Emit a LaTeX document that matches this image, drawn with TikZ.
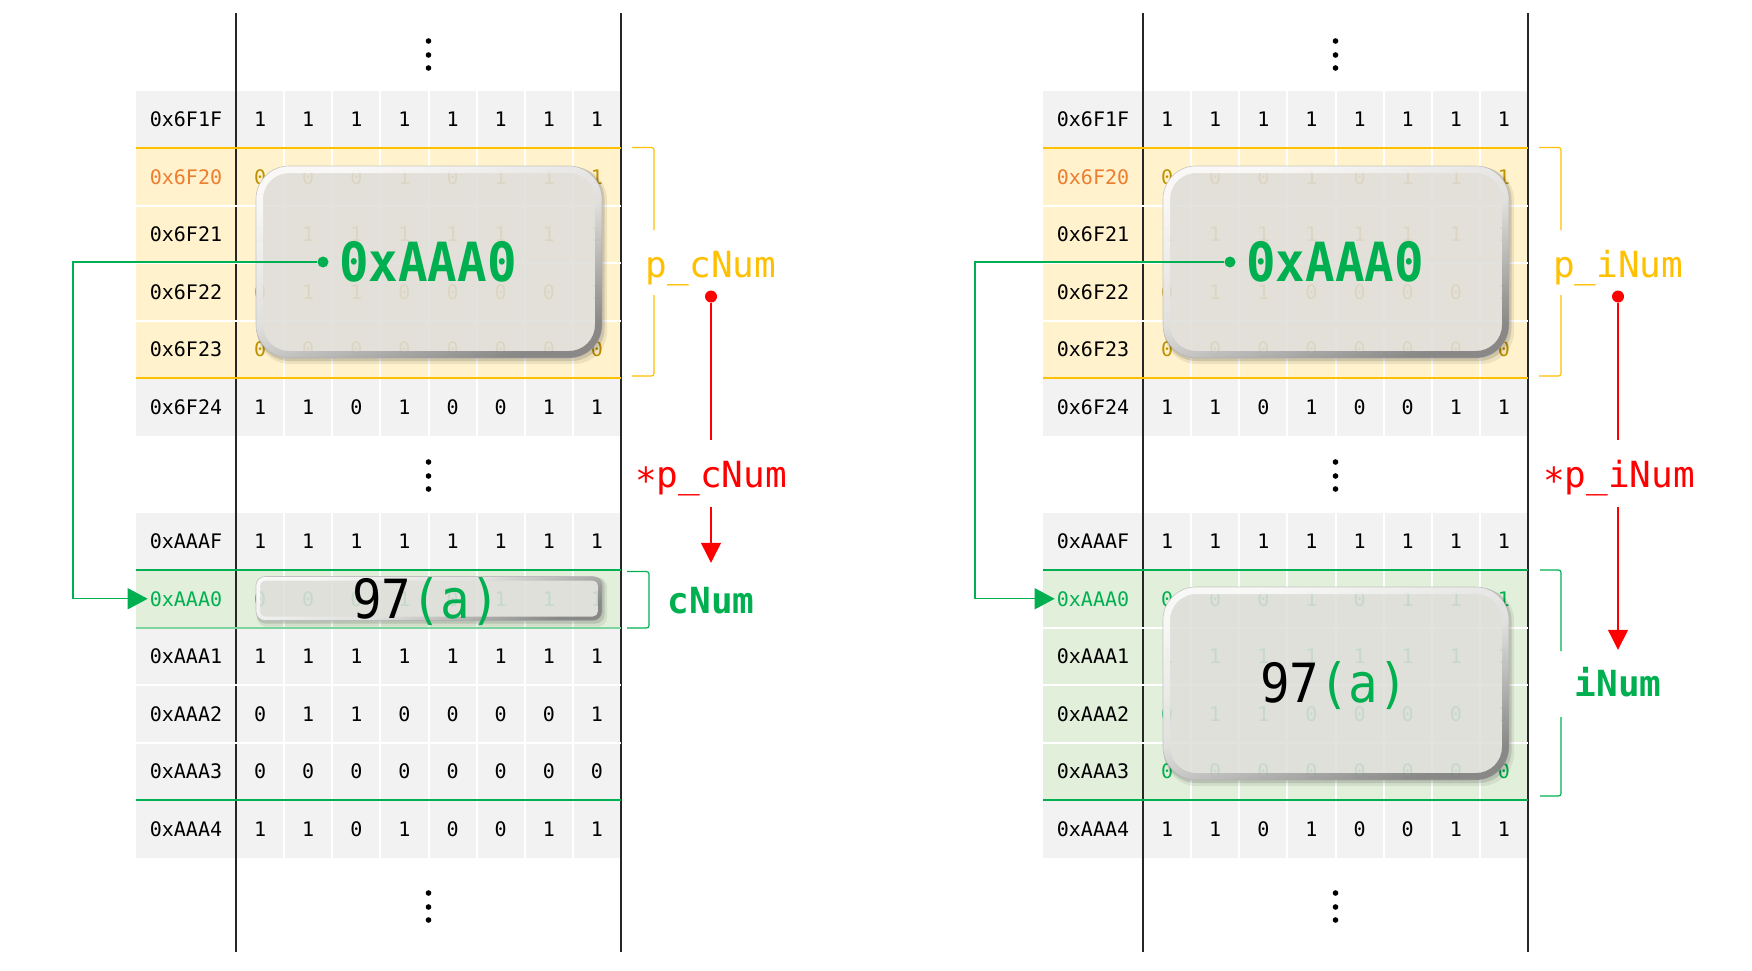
\documentclass[tikz,border=0pt]{standalone}
\usepackage{fontspec}
\usetikzlibrary{arrows.meta}
\newfontfamily\mono{DejaVu Sans Mono}
\newfontfamily\monon[FakeStretch=0.91]{DejaVu Sans Mono}
\definecolor{rowgray}{HTML}{F2F2F2}
\definecolor{rowyel}{HTML}{FFF2CC}
\definecolor{rowgrn}{HTML}{E2EFDA}
\definecolor{lineyel}{HTML}{FFC000}
\definecolor{gr}{HTML}{00B050}
\definecolor{lightgr}{HTML}{7ED4A0}
\definecolor{orng}{HTML}{ED7D31}
\definecolor{bitye}{HTML}{BF9000}
\definecolor{boxbody}{HTML}{E6E5E1}
\definecolor{redc}{HTML}{FF0000}
\tikzset{
  addr/.style={font=\mono\fontsize{20}{24}\selectfont, inner sep=2pt},
  bit/.style={font=\mono\fontsize{20}{24}\selectfont, inner sep=1pt},
  bigtxt/.style={font=\monon\fontsize{54}{60}\selectfont, inner sep=0pt},
  bigbold/.style={font=\monon\bfseries\fontsize{54}{60}\selectfont, inner sep=0pt},
  lbl/.style={font=\mono\fontsize{36}{42}\selectfont, inner xsep=2pt},
  lblb/.style={font=\mono\bfseries\fontsize{36}{42}\selectfont, inner xsep=2pt},
  sep/.style={white, line width=2pt},
  rail/.style={black!85, line width=2.2pt},
  gline/.style={gr, line width=1.3pt},
  rline/.style={redc, line width=1.2pt},
  bracket/.style={line width=1.2pt, rounded corners=2.5pt},
  vdot/.style={circle, fill=black, inner sep=0pt, minimum size=5.6pt},
  gdot/.style={circle, fill=gr, inner sep=0pt, minimum size=11pt},
  rdot/.style={circle, fill=redc, inner sep=0pt, minimum size=12pt},
}
\newcommand\rowgroup[3]{%
  \foreach \a/\ac/\bits/\bc/\bg [count=\k from 0] in #3 {
    \fill[fill=\bg] (136,{#2+57.5*\k}) rectangle (621,{#2+57.5*(\k+1)});
  }
  \draw[rail] (236,{#2-1}) -- (236,{#2+346}) (621,{#2-1}) -- (621,{#2+346});
  \foreach \j in {1,...,7} \draw[sep] ({236+48.125*\j},#2) -- ({236+48.125*\j},{#2+345});
  \foreach \k in {1,...,5} \draw[sep] (136,{#2+57.5*\k}) -- (621,{#2+57.5*\k});
  \foreach \a/\ac/\bits/\bc/\bg [count=\k from 0] in #3 {
    \node[addr, text=\ac] (#1a\k) at (186,{#2+57.5*\k+28.75}) {\a};
    \foreach \b [count=\i] in \bits
      \node[bit, text=\bc] (#1b\k\i) at ({236+48.125*(\i-0.5)},{#2+57.5*\k+28.75}) {\b};
  }
}
% x1 y1 x2 y2 radius ringwidth innerradius
\newcommand\glossbox[7]{%
  \fill[black, opacity=0.07, rounded corners=#5pt] ({#1+1},{#2+1}) rectangle ({#3+5},{#4+6});
  \fill[black, opacity=0.12, rounded corners=#5pt] ({#1+0.5},{#2+0.5}) rectangle ({#3+2.5},{#4+3});
  \fill[boxbody, fill opacity=0.86, rounded corners=#5pt] (#1,#2) rectangle (#3,#4);
  \shade[opacity=0.8, even odd rule, top color=white, bottom color=black!55, middle color=white!88!black, shading angle=20, rounded corners=#5pt]
    (#1,#2) rectangle (#3,#4) [rounded corners=#7pt] ({#1+#6},{#2+#6}) rectangle ({#3-#6},{#4-#6});
  \draw[black!35, opacity=0.6, line width=0.6pt, rounded corners=#5pt] (#1,#2) rectangle (#3,#4);
}
\def\toprows{0x6F1F/black/{1,1,1,1,1,1,1,1}/black/rowgray,
 0x6F20/orng/{0,0,0,1,0,1,1,1}/bitye/rowyel,
 0x6F21/black/{1,1,1,1,1,1,1,1}/bitye/rowyel,
 0x6F22/black/{0,1,1,0,0,0,0,1}/bitye/rowyel,
 0x6F23/black/{0,0,0,0,0,0,0,0}/bitye/rowyel,
 0x6F24/black/{1,1,0,1,0,0,1,1}/black/rowgray}
\def\botrowsL{0xAAAF/black/{1,1,1,1,1,1,1,1}/black/rowgray,
 0xAAA0/gr/{0,0,0,1,0,1,1,1}/gr/rowgrn,
 0xAAA1/black/{1,1,1,1,1,1,1,1}/black/rowgray,
 0xAAA2/black/{0,1,1,0,0,0,0,1}/black/rowgray,
 0xAAA3/black/{0,0,0,0,0,0,0,0}/black/rowgray,
 0xAAA4/black/{1,1,0,1,0,0,1,1}/black/rowgray}
\def\botrowsR{0xAAAF/black/{1,1,1,1,1,1,1,1}/black/rowgray,
 0xAAA0/gr/{0,0,0,1,0,1,1,1}/gr/rowgrn,
 0xAAA1/black/{1,1,1,1,1,1,1,1}/gr/rowgrn,
 0xAAA2/black/{0,1,1,0,0,0,0,1}/gr/rowgrn,
 0xAAA3/black/{0,0,0,0,0,0,0,0}/gr/rowgrn,
 0xAAA4/black/{1,1,0,1,0,0,1,1}/black/rowgray}
\begin{document}
\begin{tikzpicture}[x=1pt,y=-1pt]
\useasboundingbox (0,0) rectangle (1752,970);
\fill[white] (0,0) rectangle (1752,970);

% ================= LEFT PANEL =================
\draw[rail] (236,13) -- (236,952) (621,13) -- (621,952);
\rowgroup{La}{90.5}{\toprows}
\rowgroup{Lb}{512.5}{\botrowsL}
\draw[lineyel, line width=1.5pt] (136,148) -- (621,148) (136,378) -- (621,378);
\draw[gr, line width=1.3pt] (136,570) -- (621,570) (136,800) -- (621,800);
\draw[lightgr, line width=2pt] (136,627.5) -- (621,627.5);
\foreach \y [count=\n] in {41,55,68} \node[vdot] (Ld1\n) at (428.5,\y) {};
\foreach \y [count=\n] in {462,476,489} \node[vdot] (Ld2\n) at (428.5,\y) {};
\foreach \y [count=\n] in {893,907,920} \node[vdot] (Ld3\n) at (428.5,\y) {};

\glossbox{256}{166}{602}{358}{33}{7}{26}
\node[bigbold, text=gr] (pvalL) at (428,262) {0xAAA0};
\glossbox{256}{576.5}{602}{620.5}{9}{4}{5}
\node[bigtxt, anchor=base] (valL) at (426,618) {97\textcolor{gr}{(a)}};

\node[gdot] (gdotL) at (323,262) {};
\coordinate (gcL) at (73,262);
\draw[gline, -{Triangle[length=20pt,width=21pt]}] (gdotL) -- (gcL) |- (Lba1.west);

\draw[lineyel, bracket] (632,147.5) -- (654,147.5) -- (654,230);
\draw[lineyel, bracket] (654,295) -- (654,376) -- (632,376);
\node[lbl, text=lineyel, anchor=base] (pnameL) at (711,277) {p\_cNum};
\node[rdot] (rdotL) at (711,296.5) {};
\node[lbl, text=redc, anchor=base, text height=31pt, text depth=4pt, inner ysep=16pt] (derefL) at (711,487) {\raisebox{-6pt}{*}p\_cNum};
\node[lblb, text=gr, anchor=base, text height=26pt, text depth=0pt, inner ysep=24pt] (cnumL) at (711,613) {cNum};
\draw[rline] (rdotL) -- (derefL);
\draw[rline, -{Triangle[length=20pt,width=20pt]}] (derefL) -- (cnumL);
\draw[gr, bracket] (627,571.5) -- (649,571.5) -- (649,628) -- (627,628);

% ================= RIGHT PANEL =================
\begin{scope}[xshift=907pt]
\draw[rail] (236,13) -- (236,952) (621,13) -- (621,952);
\rowgroup{Ra}{90.5}{\toprows}
\rowgroup{Rb}{512.5}{\botrowsR}
\draw[lineyel, line width=1.5pt] (136,148) -- (621,148) (136,378) -- (621,378);
\draw[gr, line width=1.3pt] (136,570) -- (621,570) (136,800) -- (621,800);
\foreach \y [count=\n] in {41,55,68} \node[vdot] (Rd1\n) at (428.5,\y) {};
\foreach \y [count=\n] in {462,476,489} \node[vdot] (Rd2\n) at (428.5,\y) {};
\foreach \y [count=\n] in {893,907,920} \node[vdot] (Rd3\n) at (428.5,\y) {};

\glossbox{256}{166}{602}{358}{33}{7}{26}
\node[bigbold, text=gr] (pvalR) at (428,262) {0xAAA0};
\glossbox{256}{587}{602}{780}{33}{7}{26}
\node[bigtxt, anchor=base] (valR) at (427,702) {97\textcolor{gr}{(a)}};

\node[gdot] (gdotR) at (323,262) {};
\coordinate (gcR) at (68,262);
\draw[gline, -{Triangle[length=20pt,width=21pt]}] (gdotR) -- (gcR) |- (Rba1.west);

\draw[lineyel, bracket] (632,147.5) -- (654,147.5) -- (654,230);
\draw[lineyel, bracket] (654,295) -- (654,376) -- (632,376);
\node[lbl, text=lineyel, anchor=base] (pnameR) at (711,277) {p\_iNum};
\node[rdot] (rdotR) at (711,296.5) {};
\node[lbl, text=redc, anchor=base, text height=31pt, text depth=4pt, inner ysep=16pt] (derefR) at (712,487) {\raisebox{-6pt}{*}p\_iNum};
\node[lblb, text=gr, anchor=base, text height=26pt, text depth=0pt, inner ysep=20pt] (inumR) at (711,696) {iNum};
\draw[rline] (rdotR) -- (rdotR |- derefR.north);
\draw[rline, -{Triangle[length=20pt,width=20pt]}] (rdotR |- derefR.south) -- (inumR);
\draw[gr, bracket] (633,570) -- (654,570) -- (654,651);
\draw[gr, bracket] (654,717) -- (654,796) -- (633,796);
\end{scope}
\end{tikzpicture}
\end{document}
